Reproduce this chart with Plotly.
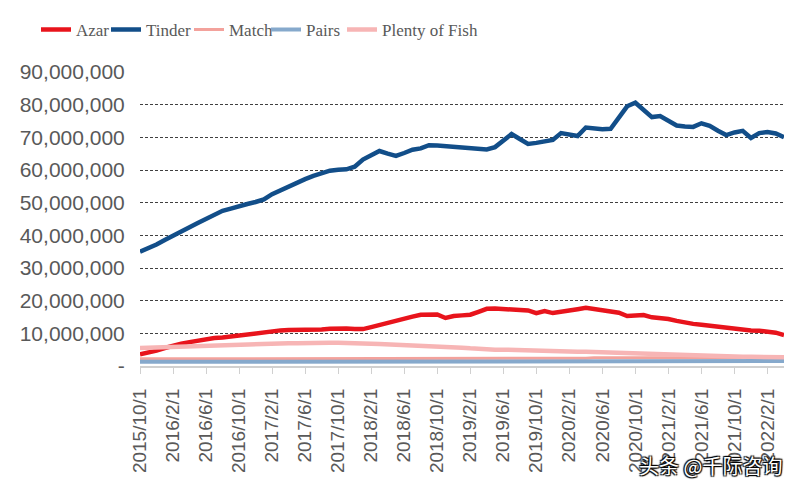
import plotly.graph_objects as go

# monthly categories 2015/10/1 .. 2022/4/1
months = []
y, m = 2015, 10
for _ in range(79):
    months.append(f"{y}/{m}/1")
    m += 1
    if m > 12:
        m = 1
        y += 1

tick_labels = ["2015/10/1", "2016/2/1", "2016/6/1", "2016/10/1", "2017/2/1", "2017/6/1",
               "2017/10/1", "2018/2/1", "2018/6/1", "2018/10/1", "2019/2/1", "2019/6/1",
               "2019/10/1", "2020/2/1", "2020/6/1", "2020/10/1", "2021/2/1", "2021/6/1",
               "2021/10/1", "2022/2/1"]

# values in millions
azar = [3.6, 4.0, 4.7, 5.5, 6.3, 6.8, 7.3, 7.8, 8.4, 8.6, 8.7, 9.0, 9.6, 9.9, 10.2, 10.4,
        10.6, 10.9, 11.0, 11.0, 11.1, 11.3, 11.2, 11.4, 11.5, 11.5, 11.3, 11.3, 11.9, 12.6,
        13.3, 13.9, 14.6, 15.1, 15.7, 15.9, 15.8, 14.7, 15.3, 15.5, 15.7, 16.6, 17.5, 17.6,
        17.4, 17.1, 17.1, 17.0, 16.2, 16.8, 16.2, 16.5, 16.9, 17.4, 17.8, 17.4, 17.0, 16.7,
        16.3, 15.3, 15.4, 15.6, 14.9, 14.7, 14.4, 13.8, 13.2, 12.9, 12.6, 12.3, 11.9, 11.5,
        11.3, 11.0, 10.9, 10.8, 10.6, 10.2, 9.5]
tinder = [35.0, 36.0, 37.2, 38.6, 40.0, 41.2, 42.5, 43.8, 45.0, 46.4, 47.5, 48.2, 49.0, 49.6,
          50.2, 51.0, 52.6, 53.8, 55.0, 56.2, 57.2, 58.2, 59.0, 59.8, 60.1, 60.2, 61.0, 63.2,
          64.5, 65.8, 65.0, 64.3, 65.2, 66.2, 66.6, 67.6, 67.5, 67.3, 66.9, 67.0, 66.7, 66.5,
          66.3, 67.0, 69.0, 71.0, 69.5, 68.0, 68.3, 68.6, 69.2, 71.3, 71.0, 70.4, 73.0, 72.6,
          72.5, 72.6, 76.0, 79.5, 80.6, 78.5, 76.2, 76.5, 75.0, 73.6, 73.3, 73.2, 74.3, 73.5,
          72.0, 70.7, 71.5, 72.0, 69.8, 71.3, 71.6, 71.2, 70.0]
match = [2.2, 2.2, 2.2, 2.2, 2.3, 2.3, 2.3, 2.3, 2.3, 2.3, 2.3, 2.3, 2.4, 2.4, 2.4, 2.4,
         2.4, 2.4, 2.4, 2.4, 2.4, 2.4, 2.4, 2.4, 2.4, 2.4, 2.4, 2.4, 2.4, 2.4, 2.4, 2.4,
         2.4, 2.4, 2.4, 2.4, 2.4, 2.4, 2.4, 2.4, 2.4, 2.4, 2.4, 2.4, 2.4, 2.4, 2.4, 2.4,
         2.4, 2.4, 2.4, 2.4, 2.4, 2.4, 2.4, 2.5, 2.5, 2.5, 2.5, 2.5, 2.5, 2.5, 2.5, 2.5,
         2.5, 2.5, 2.5, 2.5, 2.5, 2.5, 2.5, 2.5, 2.5, 2.5, 2.5, 2.5, 2.5, 2.5, 2.5]
pairs = [1.3, 1.3, 1.3, 1.3, 1.3, 1.3, 1.3, 1.3, 1.3, 1.3, 1.3, 1.3, 1.4, 1.4, 1.4, 1.4,
         1.4, 1.4, 1.4, 1.4, 1.4, 1.4, 1.4, 1.4, 1.4, 1.4, 1.4, 1.4, 1.4, 1.4, 1.5, 1.5,
         1.5, 1.5, 1.5, 1.5, 1.5, 1.5, 1.5, 1.5, 1.5, 1.5, 1.5, 1.5, 1.5, 1.5, 1.5, 1.5,
         1.5, 1.5, 1.5, 1.5, 1.5, 1.5, 1.5, 1.5, 1.5, 1.5, 1.5, 1.5, 1.5, 1.5, 1.5, 1.5,
         1.5, 1.5, 1.5, 1.5, 1.5, 1.5, 1.5, 1.5, 1.5, 1.5, 1.5, 1.5, 1.5, 1.5, 1.5]
plenty_of_fish = [5.5, 5.6, 5.7, 5.8, 5.9, 6.0, 6.1, 6.2, 6.3, 6.4, 6.5, 6.6, 6.7,
                  6.8, 6.8, 6.9, 6.9, 7.0, 7.0, 7.0, 7.1, 7.1, 7.1, 7.1, 7.1, 7.1, 7.0, 6.9,
                  6.8, 6.7, 6.6, 6.6, 6.5, 6.5, 6.4, 6.3, 6.2, 6.0, 5.8, 5.6, 5.4,
                  5.2, 5.1, 5.0, 5.0, 4.9, 4.9, 4.8, 4.8, 4.7, 4.6, 4.6, 4.5, 4.4, 4.4, 4.3,
                  4.2, 4.1, 4.0, 3.9, 3.8, 3.7, 3.6, 3.5, 3.4, 3.3, 3.2, 3.1, 3.1, 3.0, 3.0,
                  2.9, 2.9, 2.8, 2.8, 2.8, 2.7, 2.7, 2.7]

y_ticks = [0, 10e6, 20e6, 30e6, 40e6, 50e6, 60e6, 70e6, 80e6, 90e6]
y_tick_text = ["-", "10,000,000", "20,000,000", "30,000,000", "40,000,000", "50,000,000",
               "60,000,000", "70,000,000", "80,000,000", "90,000,000"]

series = [
    ("Azar", azar, "#E8141C", 4.5),
    ("Tinder", tinder, "#124E89", 4.5),
    ("Match", match, "#F3A29C", 3),
    ("Pairs", pairs, "#86A9CC", 4),
    ("Plenty of Fish", plenty_of_fish, "#F7B5B5", 4.5),
]

W, H = 792, 481
legend_left_px = [28, 98, 181, 258, 334]

fig = go.Figure()
legend_layout = {}
for i, (name, vals, color, w) in enumerate(series):
    key = "legend" if i == 0 else f"legend{i + 1}"
    fig.add_trace(go.Scatter(
        x=months, y=[v * 1e6 for v in vals], name=name, mode="lines",
        line=dict(color=color, width=w), legend=key,
    ))
    legend_layout[key] = dict(
        orientation="h", xref="container", yref="container",
        x=legend_left_px[i] / W, y=0.992, xanchor="left", yanchor="top",
        font=dict(family="Liberation Serif", size=17, color="#595959"),
        itemwidth=30, bgcolor="rgba(0,0,0,0)",
    )

fig.update_layout(
    width=W, height=H,
    margin=dict(l=132, r=16, t=64, b=123, autoexpand=False),
    paper_bgcolor="white", plot_bgcolor="white",
    showlegend=True,
    font=dict(family="Liberation Sans, Arial", color="#595959"),
    **legend_layout,
)
fig.update_xaxes(
    type="category", range=[0, 78], automargin=False,
    tickmode="array", tickvals=tick_labels, ticktext=tick_labels,
    tickangle=-90, tickfont=dict(size=19, color="#595959"),
    showgrid=False, showline=True, linecolor="#D0D0D0", linewidth=2,
    ticks="outside", ticklen=6, tickcolor="#D0D0D0", tickwidth=1,
    ticklabelstandoff=7,
)
fig.update_yaxes(
    range=[0, 90e6], tickmode="array", tickvals=y_ticks, ticktext=y_tick_text,
    automargin=False,
    tickfont=dict(size=21, color="#595959"),
    showgrid=True, gridcolor="#404040", gridwidth=1, griddash="3px,2px",
    zeroline=False, showline=False,
    ticks="outside", ticklen=10, tickcolor="rgba(0,0,0,0)",
)
fig.add_annotation(
    xref="paper", yref="paper", x=1.0, y=-0.34, xanchor="right", yanchor="middle",
    text="头条 @千际咨询", showarrow=False,
    font=dict(family="Noto Sans CJK SC", size=20, color="white",
              shadow="1px 1px 1px #000, -1px -1px 1px #000, 1px -1px 1px #000, -1px 1px 1px #000"),
)
fig.write_html("out.html")
